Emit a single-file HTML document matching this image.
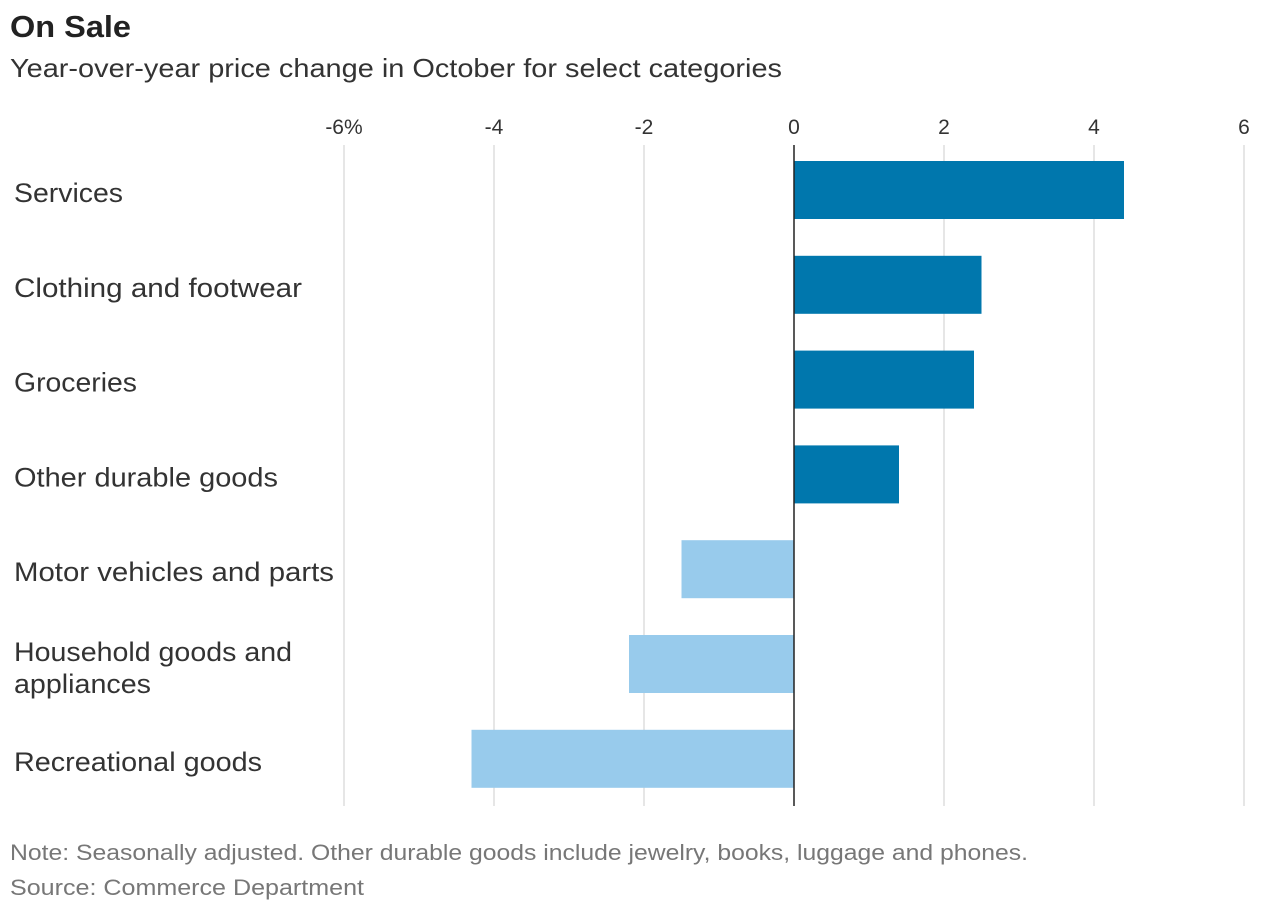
<!DOCTYPE html>
<html><head><meta charset="utf-8"><style>
body{margin:0;background:#fff;font-family:"Liberation Sans",sans-serif;}
</style></head><body>
<svg width="1276" height="918" xmlns="http://www.w3.org/2000/svg">
<text x="10" y="37" font-size="31" font-weight="bold" fill="#222" textLength="121" lengthAdjust="spacingAndGlyphs">On Sale</text>
<text x="10" y="77" font-size="26" fill="#333" textLength="772" lengthAdjust="spacingAndGlyphs">Year-over-year price change in October for select categories</text>
<g id="grid"></g><g id="bars"></g><g id="labels"></g>
<text x="10" y="860" font-size="22" fill="#777" textLength="1018" lengthAdjust="spacingAndGlyphs">Note: Seasonally adjusted. Other durable goods include jewelry, books, luggage and phones.</text>
<text x="10" y="895" font-size="22" fill="#777" textLength="354" lengthAdjust="spacingAndGlyphs">Source: Commerce Department</text>
</svg>
<script>
const categories=["Services","Clothing and footwear","Groceries","Other durable goods","Motor vehicles and parts","Household goods and|appliances","Recreational goods"];
const values=[4.4,2.5,2.4,1.4,-1.5,-2.2,-4.3];
const ticks=[-6,-4,-2,0,2,4,6];
const tickLabels=["-6%","-4","-2","0","2","4","6"];
const labelWidths={"Services":109,"Clothing and footwear":288,"Groceries":123,"Other durable goods":264,"Motor vehicles and parts":320,"Household goods and":278,"appliances":137,"Recreational goods":248};
const NS="http://www.w3.org/2000/svg";
const x=v=>794+v*75;
const bandY=i=>161+i*94.8;
function mk(tag,attrs,parent){const e=document.createElementNS(NS,tag);for(const k in attrs)e.setAttribute(k,attrs[k]);document.getElementById(parent).appendChild(e);return e;}
ticks.forEach((t,i)=>{
 if(t!==0){const l=mk("line",{x1:x(t),x2:x(t),y1:145,y2:806,stroke:"#ddd","stroke-width":1.5},"grid");
 
 }
 const tx=mk("text",{x:x(t),y:134,"font-size":21,fill:"#333","text-anchor":"middle"},"grid");
 tx.textContent=tickLabels[i];
 
 
});
values.forEach((v,i)=>{
 const r=mk("rect",{x:Math.min(x(0),x(v)),y:bandY(i),width:Math.abs(x(v)-x(0)),height:58,fill:v>=0?"#0077ad":"#98cbec"},"bars");
 
 
 const lines=categories[i].split("|");
 const y0=lines.length>1?bandY(i)+26:bandY(i)+41;
 lines.forEach((s,j)=>{
  const t=mk("text",{x:14,y:y0+j*32,"font-size":27,fill:"#333",textLength:labelWidths[s],lengthAdjust:"spacingAndGlyphs"},"labels");
  
  
  t.textContent=s;
 });
});
const z=mk("line",{x1:x(0),x2:x(0),y1:145,y2:806,stroke:"#222","stroke-width":1.5},"bars");


</script>
</body></html>
